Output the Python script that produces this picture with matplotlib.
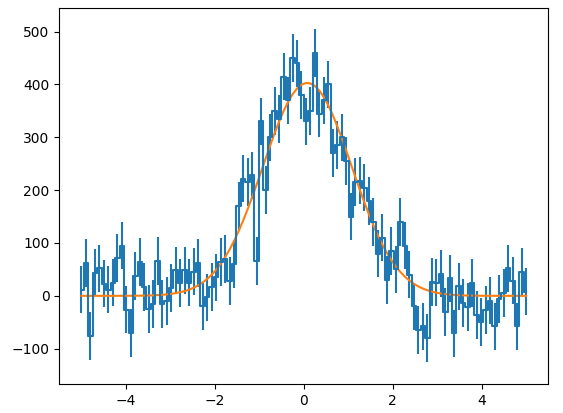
import numpy as np
import matplotlib
matplotlib.use('Agg')
import matplotlib.pyplot as plt

x = np.linspace(-5, 5, 100)
counts = [12, 62, -76, 44, 52, 23, 12, 25, 72, 95,
          -26, -70, 38, 64, 17, -25, -15, 66, -15, -10,
          15, 48, 24, 48, 25, 46, 62, -20, -3, 17,
          35, 64, 70, 28, 60, 170, 222, 215, 228, 66,
          330, 200, 300, 350, 335, 415, 370, 450, 440, 380,
          330, 350, 460, 345, 370, 400, 270, 285, 300, 255,
          150, 215, 218, 205, 180, 140, 80, 110, 30, 85,
          50, 140, 95, 40, -20, -65, -58, -80, 26, 25,
          42, -31, 33, -71, 18, -14, -21, 24, -36, -49,
          -27, -9, -58, -6, 5, 52, 29, -58, 45, 8]
count_err = 45

# gaussian fit parameters
amp, mu, sigma = 403, 0.08, 1.0
fit = amp * np.exp(-(x - mu) ** 2 / (2 * sigma ** 2))

fig = plt.figure(figsize=(5.63, 4.13), dpi=100)
ax = fig.add_axes([0.105, 0.07, 0.869, 0.911])
ax.errorbar(x, counts, yerr=count_err, drawstyle='steps-mid')
ax.plot(x, fit)
ax.set_ylim(-167, 545)

fig.savefig('out.png', dpi=100)
